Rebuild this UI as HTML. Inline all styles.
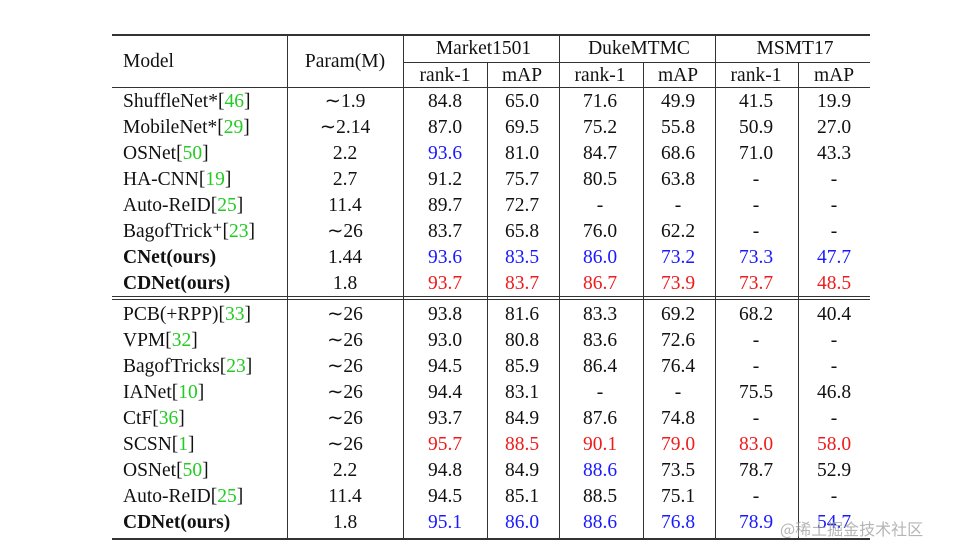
<!DOCTYPE html>
<html><head><meta charset="utf-8"><style>
body{margin:0;width:958px;height:557px;background:#fff;position:relative;overflow:hidden;font-family:"Liberation Serif",serif;font-size:19.5px;color:#111}
.t{position:absolute;white-space:nowrap;line-height:26px;height:26px;margin-top:2px}
.c{transform:translateX(-50%)}
.h{position:absolute;background:#333;height:1px}
.v{position:absolute;background:#333;width:1px}
.g{color:#22cc22}.b{color:#1a1aff}.r{color:#ee1c1c}
.wm{position:absolute;left:780px;top:516px;font-family:"Noto Sans CJK SC",sans-serif;font-size:16px;color:rgba(150,150,150,0.7)}
</style></head><body>
<div id="tbl"></div>
<div class="wm">@稀土掘金技术社区</div>
<script>
const models=[["ShuffleNet*","46"],["MobileNet*","29"],["OSNet","50"],["HA-CNN","19"],["Auto-ReID","25"],["BagofTrick⁺","23"],["CNet(ours)",""],["CDNet(ours)",""],["PCB(+RPP)","33"],["VPM","32"],["BagofTricks","23"],["IANet","10"],["CtF","36"],["SCSN","1"],["OSNet","50"],["Auto-ReID","25"],["CDNet(ours)",""]];
const params=["∼1.9","∼2.14","2.2","2.7","11.4","∼26","1.44","1.8","∼26","∼26","∼26","∼26","∼26","∼26","2.2","11.4","1.8"];
const values=[
["84.8","65.0","71.6","49.9","41.5","19.9"],
["87.0","69.5","75.2","55.8","50.9","27.0"],
["93.6b","81.0","84.7","68.6","71.0","43.3"],
["91.2","75.7","80.5","63.8","-","-"],
["89.7","72.7","-","-","-","-"],
["83.7","65.8","76.0","62.2","-","-"],
["93.6b","83.5b","86.0b","73.2b","73.3b","47.7b"],
["93.7r","83.7r","86.7r","73.9r","73.7r","48.5r"],
["93.8","81.6","83.3","69.2","68.2","40.4"],
["93.0","80.8","83.6","72.6","-","-"],
["94.5","85.9","86.4","76.4","-","-"],
["94.4","83.1","-","-","75.5","46.8"],
["93.7","84.9","87.6","74.8","-","-"],
["95.7r","88.5r","90.1r","79.0r","83.0r","58.0r"],
["94.8","84.9","88.6b","73.5","78.7","52.9"],
["94.5","85.1","88.5","75.1","-","-"],
["95.1b","86.0b","88.6b","76.8b","78.9b","54.7b"]];
const datasets=["Market1501","DukeMTMC","MSMT17"];
const subs=["rank-1","mAP"];
const T=document.getElementById('tbl');
const colX=[445,522,600,678,756,834];
function add(cls,style,txt,name){const d=document.createElement('div');d.className=cls;d.style.cssText=style;if(txt!==undefined)d.innerHTML=txt;


T.appendChild(d);return d;}
add('h','left:112px;top:34px;width:758px;height:1.5px','', 'top-rule');
add('h','left:403px;top:62px;width:467px','', 'subheader-rule');
add('h','left:112px;top:87px;width:758px','', 'header-rule');
add('h','left:112px;top:296px;width:758px','', 'group-rule-1');
add('h','left:112px;top:299px;width:758px','', 'group-rule-2');
add('h','left:112px;top:538px;width:758px;height:1.5px','', 'bottom-rule');
[287,403,559,715].forEach((x,i)=>add('v',`left:${x}px;top:34px;height:505px`,'', 'column-divider'));
[487,643,798].forEach(x=>add('v',`left:${x}px;top:62px;height:477px`,'', 'sub-column-divider'));
add('t','left:123px;top:47px','Model','header-model');
add('t c','left:345px;top:47px','Param(M)','header-param');
datasets.forEach((d,i)=>add('t c',`left:${(colX[i*2]+colX[i*2+1])/2}px;top:34px`,d,'header-dataset'));
for(let i=0;i<6;i++)add('t c',`left:${colX[i]}px;top:61px`,subs[i%2],'header-metric');
models.forEach((m,r)=>{
 const y=(r<8?87:300)+(r<8?r:r-8)*26;
 const bold=m[0].includes('ours');
 const txt=(bold?'<b>'+m[0]+'</b>':m[0])+(m[1]?'[<span class="g">'+m[1]+'</span>]':'');
 add('t',`left:123px;top:${y}px`,txt,'model-name');
 add('t c',`left:345px;top:${y}px`,params[r],'param-value');
 values[r].forEach((v,c)=>{let cl='';if(/[br]$/.test(v)){cl=v.slice(-1);v=v.slice(0,-1);}
  add('t c '+cl,`left:${colX[c]}px;top:${y}px`,v,'metric-value');});
});
</script>
</body></html>
